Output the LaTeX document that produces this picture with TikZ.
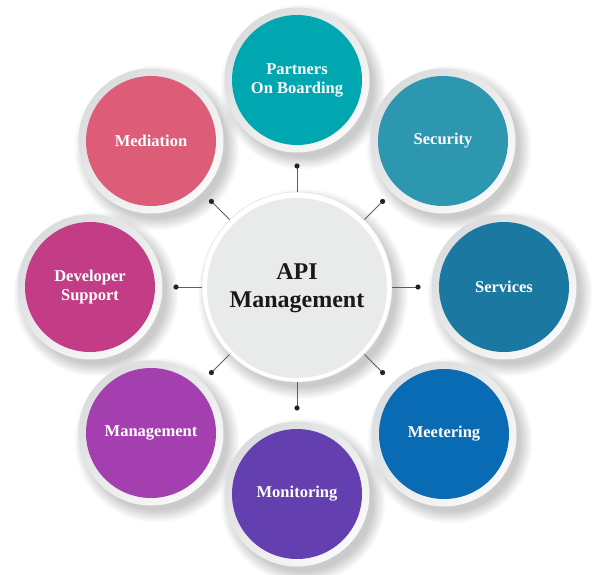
\documentclass[tikz,border=0pt]{standalone}
\usepackage{fontspec}
\setmainfont{Liberation Serif}
\definecolor{ringdark}{HTML}{DBDCDE}
\definecolor{ringlight}{HTML}{F9F9F9}
\definecolor{centergray}{HTML}{E9EAEA}
\definecolor{linegray}{HTML}{5A5F62}
\definecolor{dotcol}{HTML}{1E2426}
\definecolor{cPartners}{HTML}{00A6B0}
\definecolor{cSecurity}{HTML}{2D97B0}
\definecolor{cServices}{HTML}{1B79A1}
\definecolor{cMeetering}{HTML}{086BB4}
\definecolor{cMonitoring}{HTML}{633FB0}
\definecolor{cManagement}{HTML}{A43FB0}
\definecolor{cDeveloper}{HTML}{C23D86}
\definecolor{cMediation}{HTML}{DD5D79}
\newcommand{\softshade}[3]{%
  \foreach \k in {0,...,12}{\fill[black,opacity=0.014] (#1+6,#2+7) circle[radius=#3pt-2pt+\k*1.0pt];}}
\begin{document}
\begin{tikzpicture}[x=1pt,y=-1pt,
  ringbox/.style={circle, minimum size=145pt, inner sep=0pt, top color=ringdark, bottom color=ringlight, shading angle=45},
  disc/.style={circle, minimum size=130pt, inner sep=0pt, text=white, align=center,
    font=\bfseries\fontsize{16.5}{19}\selectfont},
  conn/.style={draw=linegray, line width=0.8pt},
  dotmark/.style={fill=dotcol}]
\useasboundingbox[fill=white] (0,0) rectangle (600,575);

% shadows
\softshade{297}{287}{95}
\softshade{297}{80}{72.5}
\softshade{443}{141}{72.5}
\softshade{504}{287}{72.5}
\softshade{444}{434}{72.5}
\softshade{297}{494}{72.5}
\softshade{151}{433}{72.5}
\softshade{90}{287}{72.5}
\softshade{151}{141}{72.5}

% central node
\node[circle, minimum size=190pt, inner sep=0pt, fill=white, draw=black!10, line width=0.6pt] (c) at (297,287) {};
\node[circle, minimum size=180pt, inner sep=0pt, fill=centergray, text=black!90,
  align=center, font=\bfseries\fontsize{24}{28}\selectfont] (ci) at (297,288) {API\\Management};

% dots
\coordinate (dt) at (297,166);
\coordinate (dur) at (382.6,201.4);
\coordinate (dr) at (418,287);
\coordinate (dlr) at (382.6,372.6);
\coordinate (db) at (297,408);
\coordinate (dll) at (211.4,372.6);
\coordinate (dl) at (176,287);
\coordinate (dul) at (211.4,201.4);
\foreach \d in {dt,dur,dr,dlr,db,dll,dl,dul}{
  \draw[conn] (c) -- (\d);
  \fill[dotmark] (\d) circle[radius=2.6pt];
}

% outer circles
\node[ringbox] (rt) at (297,80) {};
\node[disc, fill=cPartners] (t) at (297,80) {Partners\\On Boarding};
\node[ringbox] (rur) at (443,141) {};
\node[disc, fill=cSecurity] (ur) at (443,141) {Security};
\node[ringbox] (rr) at (504,287) {};
\node[disc, fill=cServices] (r) at (504,287) {Services};
\node[ringbox] (rlr) at (444,434) {};
\node[disc, fill=cMeetering] (lr) at (444,434) {Meetering};
\node[ringbox] (rb) at (297,494) {};
\node[disc, fill=cMonitoring] (b) at (297,494) {Monitoring};
\node[ringbox] (rll) at (151,433) {};
\node[disc, fill=cManagement] (ll) at (151,433) {Management};
\node[ringbox] (rl) at (90,287) {};
\node[disc, fill=cDeveloper] (l) at (90,287) {Developer\\Support};
\node[ringbox] (rul) at (151,141) {};
\node[disc, fill=cMediation] (ul) at (151,141) {Mediation};
\end{tikzpicture}
\end{document}
